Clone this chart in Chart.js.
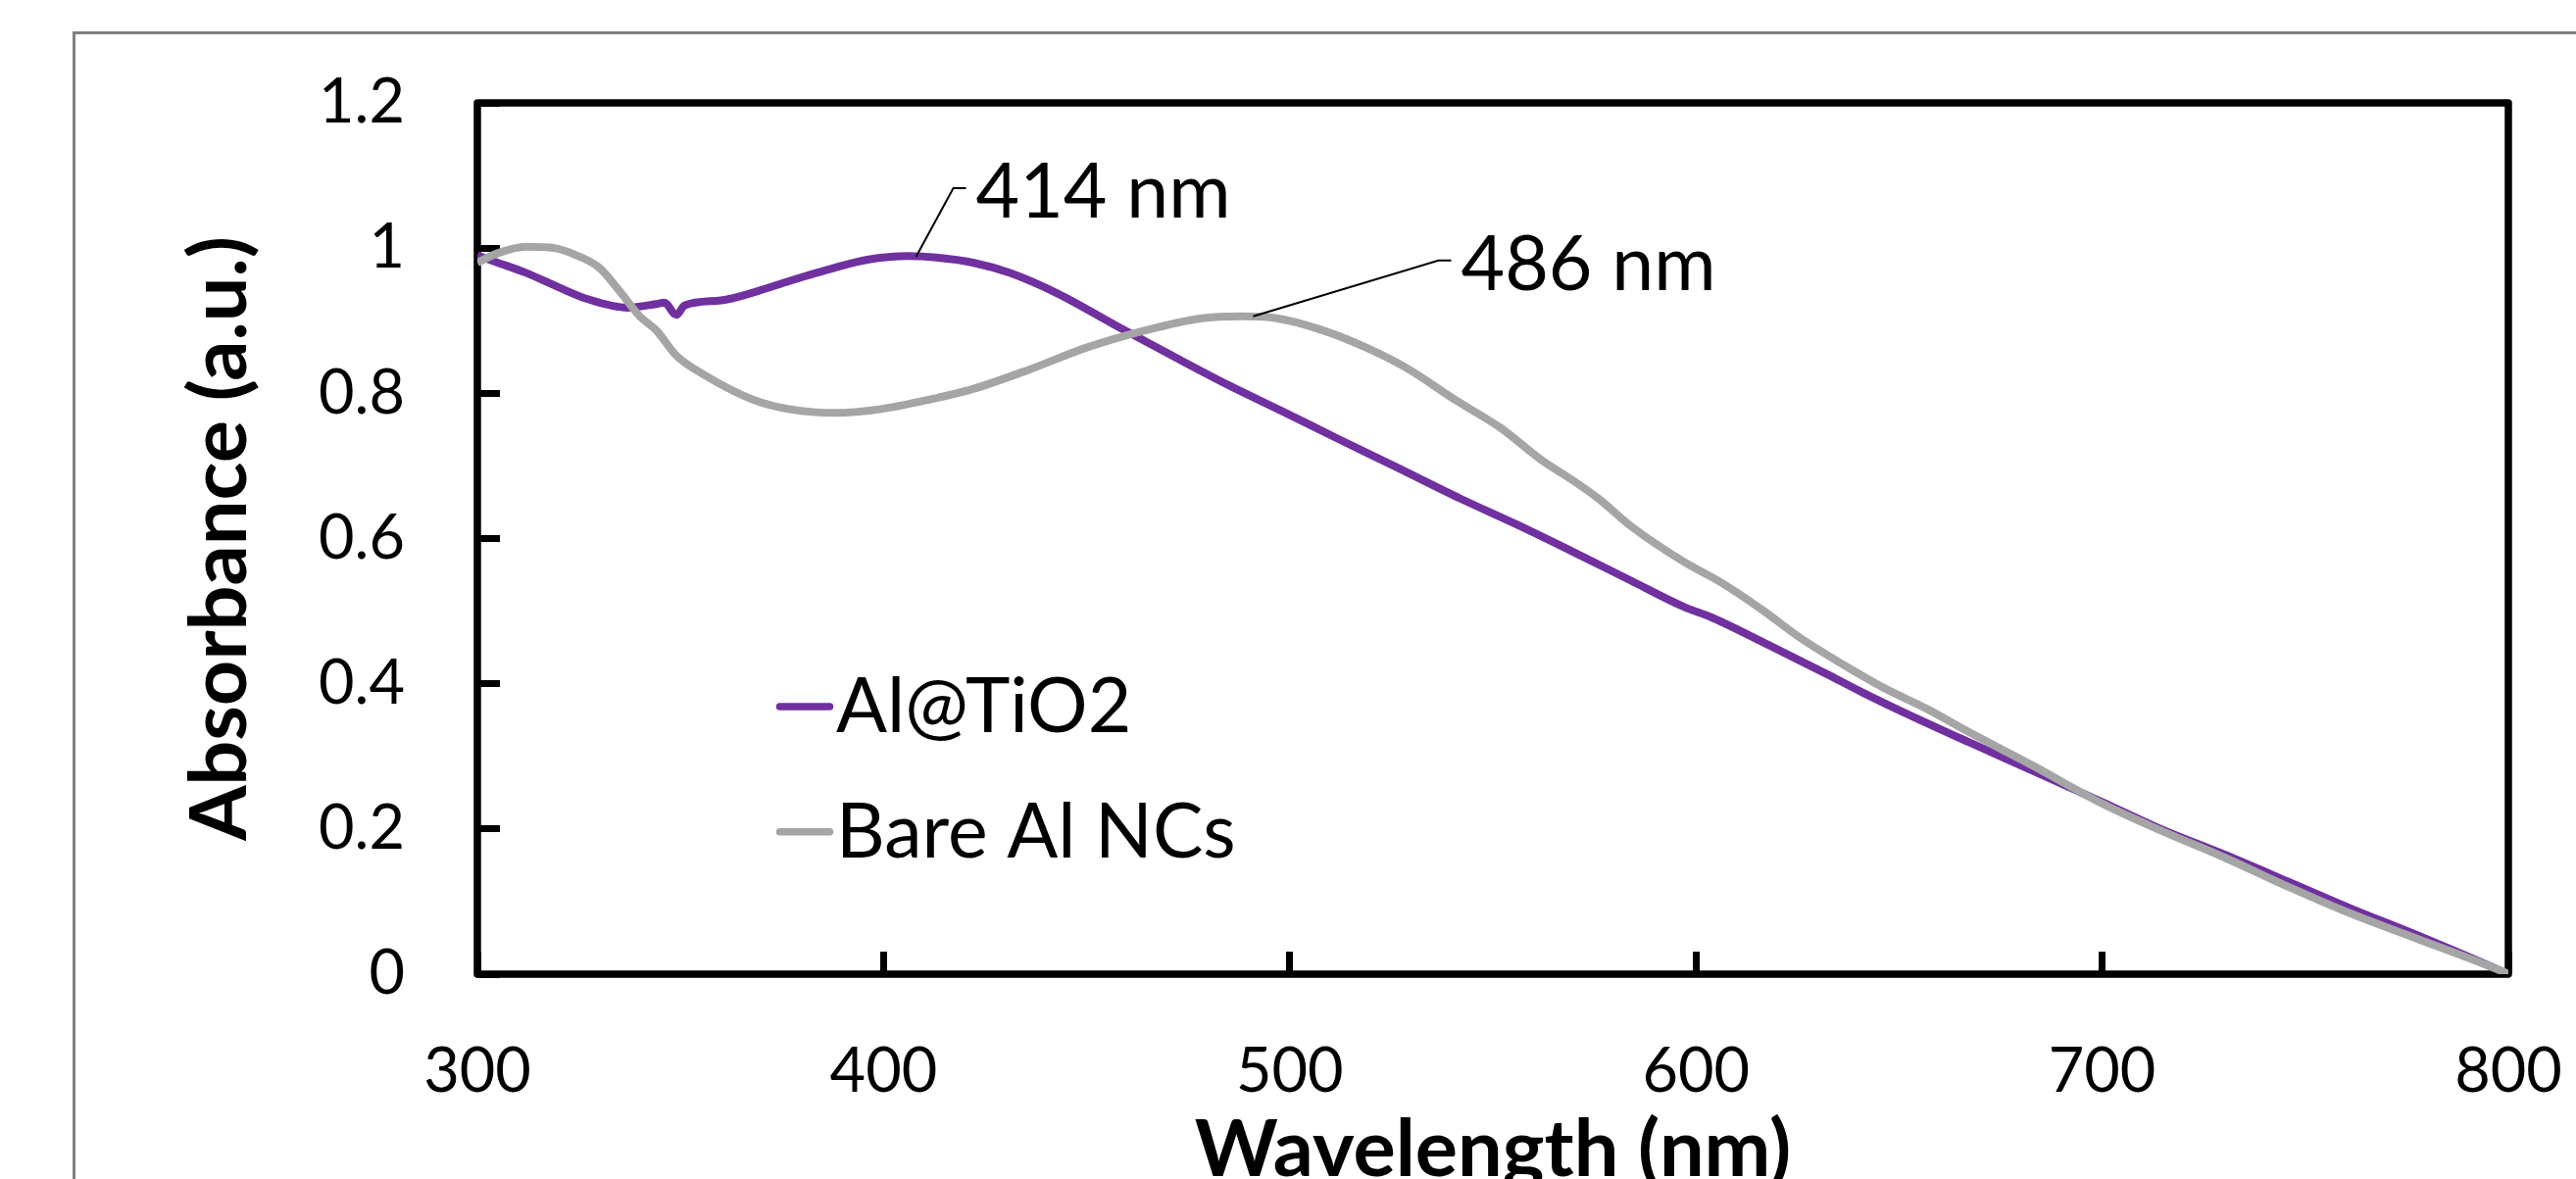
<!DOCTYPE html>
<html><head><meta charset="utf-8">
<script src="https://cdn.jsdelivr.net/npm/chart.js@4/dist/chart.umd.min.js"></script>
<style>
html,body{margin:0;padding:0;background:#fff;overflow:hidden}
#wrap{position:relative;width:2628px;height:1203px}
#frame{position:absolute;left:74px;top:32px;width:2600px;height:1200px;border-top:3px solid #7f7f7f;border-left:3px solid #7f7f7f}
canvas{position:absolute;left:0;top:0}
</style></head><body>
<div id="wrap"><div id="frame"></div><canvas id="c" width="2628" height="1203"></canvas></div>
<script>
// ---- data ----
const seriesNames = ['Al@TiO2', 'Bare Al NCs'];
const wlTiO2 = [300,305,312,320,327,337,344,346,349,351,360,368,377,388,396,406,413,422,431,443,457,471,485,499,512,526,542,556,570,584,597,604,618,632,641,651,667,683,700,714,730,746,761,777,798,800];
const absTiO2 = [0.990,0.980,0.966,0.946,0.930,0.918,0.923,0.925,0.908,0.921,0.928,0.939,0.955,0.973,0.984,0.989,0.987,0.980,0.966,0.937,0.894,0.852,0.811,0.773,0.737,0.699,0.655,0.619,0.581,0.542,0.506,0.491,0.453,0.414,0.388,0.361,0.320,0.280,0.237,0.201,0.165,0.127,0.091,0.055,0.005,0.000];
const wlBare = [300,305,312,319,324,330,335,340,344,349,356,368,377,388,399,411,422,436,450,464,478,488,496,508,520,529,541,552,562,570,576,584,597,606,616,626,640,646,657,667,683,700,714,730,746,761,777,798,800];
const absBare = [0.980,0.993,1.002,1.000,0.991,0.973,0.941,0.906,0.887,0.852,0.825,0.791,0.778,0.773,0.778,0.791,0.806,0.833,0.863,0.886,0.903,0.906,0.904,0.887,0.860,0.834,0.790,0.752,0.708,0.679,0.655,0.617,0.568,0.540,0.503,0.462,0.414,0.395,0.365,0.334,0.287,0.235,0.199,0.161,0.120,0.084,0.050,0.005,0.000];
const xTickValues = [300,400,500,600,700,800];
const xTickLabels = ['300','400','500','600','700','800'];
const yTickValues = [0,0.2,0.4,0.6,0.8,1,1.2];
const yTickLabels = ['0','0.2','0.4','0.6','0.8','1','1.2'];
const peakLabels = ['414 nm', '486 nm'];
const peakWl = [408, 491];
const peakAbs = [0.988, 0.906];
const xTitle = 'Wavelength (nm)';
const yTitle = 'Absorbance (a.u.)';

const toXY = (xs, ys) => xs.map((v, i) => ({x: v, y: ys[i]}));

const boxPlugin = {
  id: 'box',
  beforeDatasetsDraw(chart) {
    const {ctx, chartArea: a} = chart;
    ctx.save();
    ctx.strokeStyle = '#000';
    ctx.lineWidth = 7.5;
    ctx.lineJoin = 'round';
    ctx.strokeRect(a.left, a.top, a.right - a.left, a.bottom - a.top);
    ctx.restore();
  }
};

const annoPlugin = {
  id: 'anno',
  afterDatasetsDraw(chart) {
    const {ctx, scales: {x, y}} = chart;
    const offs = [[38, -70], [189, -57]];
    ctx.save();
    ctx.font = '77px Lato';
    ctx.fillStyle = '#000';
    ctx.strokeStyle = '#000';
    ctx.lineWidth = 2;
    ctx.textBaseline = 'alphabetic';
    ctx.textAlign = 'left';
    peakLabels.forEach((lab, i) => {
      const px = x.getPixelForValue(peakWl[i]);
      const py = y.getPixelForValue(peakAbs[i]);
      const ex = px + offs[i][0], ey = py + offs[i][1];
      ctx.beginPath();
      ctx.moveTo(px, py);
      ctx.lineTo(ex, ey);
      ctx.lineTo(ex + 13, ey);
      ctx.stroke();
      ctx.fillText(lab, ex + 23, ey + 30);
    });
    ctx.restore();
  }
};

const legendPlugin = {
  id: 'legendInside',
  afterDraw(chart) {
    const {ctx, scales: {x, y}} = chart;
    const x0 = x.getPixelForValue(373.6);
    const rows = [y.getPixelForValue(0.3685), y.getPixelForValue(0.196)];
    ctx.save();
    ctx.font = '77px Lato';
    ctx.textBaseline = 'alphabetic';
    ctx.textAlign = 'left';
    chart.data.datasets.forEach((ds, i) => {
      const ry = rows[i];
      ctx.strokeStyle = ds.borderColor;
      ctx.lineWidth = 7.5;
      ctx.lineCap = 'round';
      ctx.beginPath();
      ctx.moveTo(x0 + 3.5, ry);
      ctx.lineTo(x0 + 54.5, ry);
      ctx.stroke();
      ctx.fillStyle = '#000';
      ctx.fillText(ds.label, x0 + 61, ry + 26);
    });
    ctx.restore();
  }
};

const zeroPad = s => { s.paddingLeft = 0; s.paddingRight = 0; s.paddingTop = 0; s.paddingBottom = 0; };

new Chart(document.getElementById('c'), {
  type: 'line',
  data: {
    datasets: [
      {label: seriesNames[0], data: toXY(wlTiO2, absTiO2), borderColor: '#7030A0', borderWidth: 8, pointRadius: 0, cubicInterpolationMode: 'monotone', order: 1, fill: false},
      {label: seriesNames[1], data: toXY(wlBare, absBare), borderColor: '#A5A5A5', borderWidth: 8, pointRadius: 0, cubicInterpolationMode: 'monotone', order: 0, fill: false}
    ]
  },
  options: {
    responsive: false,
    animation: false,
    events: [],
    layout: {padding: {left: 0, top: 105, right: 69, bottom: 0}},
    plugins: {legend: {display: false}, tooltip: {enabled: false}, title: {display: false}},
    scales: {
      x: {
        type: 'linear', min: 300, max: 800,
        afterBuildTicks: s => { s.ticks = xTickValues.map(v => ({value: v})); },
        afterFit: s => { s.height = 209; zeroPad(s); },
        grid: {drawOnChartArea: false, drawTicks: true, tickLength: -23, tickWidth: 7, tickColor: '#000'},
        border: {display: false},
        ticks: {font: {family: 'Lato', size: 63}, color: '#000', padding: 85, maxRotation: 0, autoSkip: false,
                callback: (v, i) => xTickLabels[i]},
        title: {display: true, text: xTitle, color: '#000', padding: 0,
                font: {family: 'Lato', weight: 'bold', size: 81, lineHeight: 0.72}}
      },
      y: {
        type: 'linear', min: 0, max: 1.2,
        afterBuildTicks: s => { s.ticks = yTickValues.map(v => ({value: v})); },
        afterFit: s => { s.width = 487; zeroPad(s); },
        grid: {drawOnChartArea: false, drawTicks: true, tickLength: -23, tickWidth: 7, tickColor: '#000'},
        border: {display: false},
        ticks: {font: {family: 'Lato', size: 63}, color: '#000', padding: 97, autoSkip: false,
                callback: (v, i) => yTickLabels[i]},
        title: {display: true, text: yTitle, color: '#000', padding: {top: 176, bottom: 0},
                font: {family: 'Lato', weight: 'bold', size: 81}}
      }
    }
  },
  plugins: [boxPlugin, annoPlugin, legendPlugin]
});
</script>
</body></html>
